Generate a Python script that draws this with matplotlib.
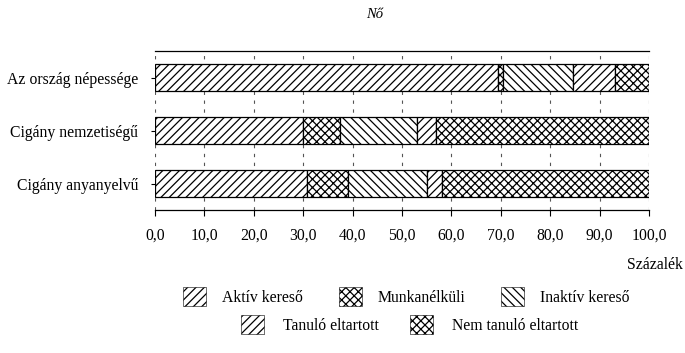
import matplotlib.pyplot as plt
import numpy as np
from matplotlib.patches import Patch

plt.rcParams['font.family'] = ['Liberation Serif', 'DejaVu Serif']
plt.rcParams['hatch.linewidth'] = 0.9

# population groups, top to bottom
groups = ['Az ország népessége', 'Cigány nemzetiségű', 'Cigány anyanyelvű']

# percentage shares per activity status
aktiv = [69.5, 30.0, 30.8]
munkanelkuli = [1.0, 7.4, 8.3]
inaktiv = [14.2, 15.6, 15.9]
tanulo = [8.4, 3.9, 3.0]
nem_tanulo = [6.9, 43.1, 42.0]

series = ['Aktív kereső', 'Munkanélküli', 'Inaktív kereső',
          'Tanuló eltartott', 'Nem tanuló eltartott']
hatches = ['////', 'xxxx', '\\\\\\\\', '////', 'xxxx']

xticks = np.arange(0, 101, 10)
xlabels = [('%.1f' % v).replace('.', ',') for v in xticks]

fs = 11.3

fig = plt.figure(figsize=(6.85, 3.53), dpi=100)
ax = fig.add_axes([0.2263, 0.4051, 0.7212, 0.4504])

y = np.arange(len(groups))
left = np.zeros(len(groups))
for vals, h in zip([aktiv, munkanelkuli, inaktiv, tanulo, nem_tanulo], hatches):
    ax.barh(y, vals, left=left, height=0.5, color='white', edgecolor='black',
            hatch=h, linewidth=0.9, zorder=3)
    left += np.array(vals)

ax.set_ylim(len(groups) - 0.5, -0.5)
ax.set_xlim(0, 100)
ax.set_yticks(y)
ax.set_yticklabels(groups, fontsize=fs)
ax.set_xticks(xticks)
ax.set_xticklabels(xlabels, fontsize=fs)
ax.tick_params(axis='y', length=3, width=0.8, pad=9)
ax.tick_params(axis='x', length=4, width=0.8, pad=9)

ax.grid(axis='x', color='#555555', linestyle=(0, (3, 5)), linewidth=0.8, zorder=0)
ax.spines['left'].set_visible(False)
ax.spines['right'].set_visible(False)
for s in ['top', 'bottom']:
    ax.spines[s].set_linewidth(0.9)

fig.text(0.547, 0.96, 'Nő', ha='center', va='center', fontsize=10.5, style='italic')
fig.text(0.997, 0.25, 'Százalék', ha='right', va='center', fontsize=fs)

handles = [Patch(facecolor='white', edgecolor='black', hatch=h, linewidth=0.4)
           for h in hatches]
leg1 = fig.legend(handles[:3], series[:3], loc='center', ncol=3,
                  bbox_to_anchor=(0.593, 0.16), frameon=False, fontsize=fs,
                  handlelength=1.45, handleheight=1.45, columnspacing=2.3,
                  handletextpad=1.0)
leg2 = fig.legend(handles[3:], series[3:], loc='center', ncol=2,
                  bbox_to_anchor=(0.598, 0.08), frameon=False, fontsize=fs,
                  handlelength=1.45, handleheight=1.45, columnspacing=2.0,
                  handletextpad=1.2)

fig.savefig('out.png', dpi=100)
